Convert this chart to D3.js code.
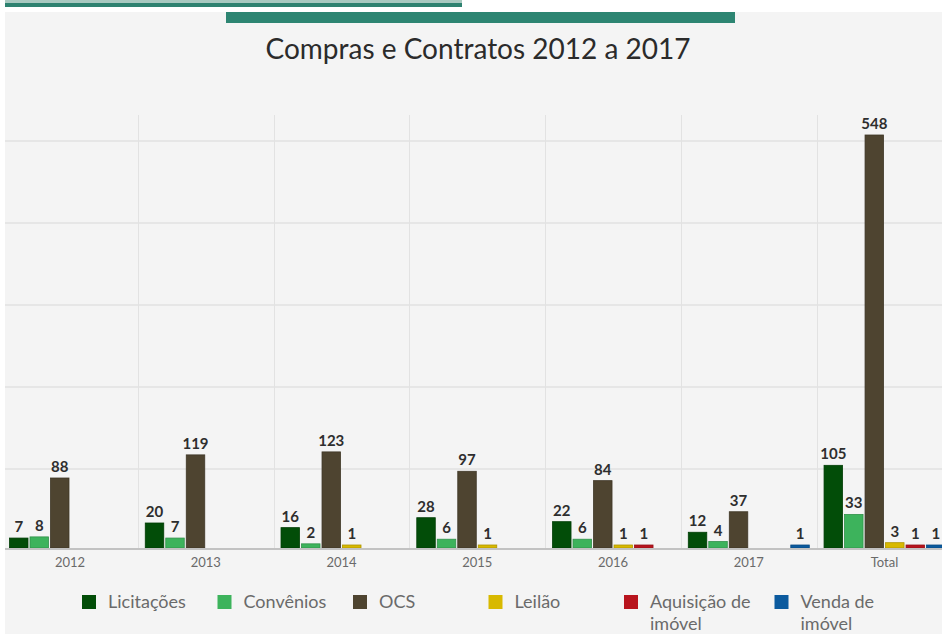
<!DOCTYPE html>
<html>
<head>
<meta charset="utf-8">
<script src="https://cdn.jsdelivr.net/npm/d3@7"></script>
<style>
  html, body { margin: 0; padding: 0; background: #ffffff; }
  svg { display: block; }
  text { font-family: Lato, "Open Sans", sans-serif; }
</style>
</head>
<body>
<svg id="chart" width="942" height="634"></svg>
<script>
// ---- data ----
const categories = ["2012", "2013", "2014", "2015", "2016", "2017", "Total"];
const seriesNames = ["Licitações", "Convênios", "OCS", "Leilão", "Aquisição de imóvel", "Venda de imóvel"];
const licitacoes = [7, 20, 16, 28, 22, 12, 105];
const convenios  = [8, 7, 2, 6, 6, 4, 33];
const ocs        = [88, 119, 123, 97, 84, 37, 548];
const leilao     = [null, null, 1, 1, 1, null, 3];
const aquisicao  = [null, null, null, null, 1, null, 1];
const venda      = [null, null, null, null, null, 1, 1];
const gridValues = [100, 210, 320, 430, 540];
const title = "Compras e Contratos 2012 a 2017";

const seriesValues = [licitacoes, convenios, ocs, leilao, aquisicao, venda];
const colors = ["#024d08", "#3db35c", "#4e4430", "#d8b900", "#b8141d", "#0b5a9e"];

const W = 942, H = 634;
const svg = d3.select("#chart");

// background / decoration
svg.append("rect").attr("x", 0).attr("y", 0).attr("width", W).attr("height", H).attr("fill", "#ffffff");
svg.append("rect").attr("x", 5).attr("y", 12).attr("width", W - 5).attr("height", H - 12).attr("fill", "#f4f4f4");
svg.append("rect").attr("x", 5).attr("y", 0).attr("width", 457).attr("height", 3).attr("fill", "#a8c9c0");
svg.append("rect").attr("x", 5).attr("y", 3).attr("width", 457).attr("height", 4).attr("fill", "#2e8270");
svg.append("rect").attr("x", 226).attr("y", 12).attr("width", 509).attr("height", 11).attr("fill", "#2d8572");

// title
svg.append("text")
  .attr("x", 478).attr("y", 59)
  .attr("text-anchor", "middle")
  .attr("font-size", 28)
  .attr("fill", "#2b2b2b")
  .text(title);

// scales
const baseY = 548;
const plotTop = 115;
const x0 = d3.scaleBand().domain(categories).range([2.1, 952.4]).padding(0);
const x1 = d3.scaleBand().domain(seriesNames).range([7.4, 128.4]).paddingInner(0.0976).paddingOuter(0);
const y = d3.scaleLinear().domain([0, 1, 20, 88, 548]).range([baseY, baseY - 3, baseY - 25, baseY - 70, baseY - 413]);

// gridlines
const grid = svg.append("g");
grid.selectAll("line.h").data(gridValues).join("line")
  .attr("class", "h")
  .attr("x1", 5).attr("x2", W)
  .attr("y1", d => y(d)).attr("y2", d => y(d))
  .attr("stroke", "#e6e6e6").attr("stroke-width", 2);
grid.selectAll("line.v").data(categories.slice(1)).join("line")
  .attr("class", "v")
  .attr("x1", d => Math.round(x0(d)) + 0.5).attr("x2", d => Math.round(x0(d)) + 0.5)
  .attr("y1", plotTop).attr("y2", baseY)
  .attr("stroke", "#e2e2e2").attr("stroke-width", 1);

// bars
const groups = svg.append("g").selectAll("g").data(categories).join("g")
  .attr("transform", d => `translate(${x0(d)},0)`);

groups.each(function(cat, ci) {
  const g = d3.select(this);
  const items = seriesNames.map((s, si) => ({ s, si, v: seriesValues[si][ci] })).filter(d => d.v != null);
  g.selectAll("rect").data(items).join("rect")
    .attr("x", d => x1(d.s))
    .attr("y", d => y(d.v))
    .attr("width", x1.bandwidth())
    .attr("height", d => baseY - y(d.v))
    .attr("fill", d => colors[d.si])
    .attr("stroke", d => d3.color(colors[d.si]).darker(0.6))
    .attr("stroke-width", 0.8);
  g.selectAll("text").data(items).join("text")
    .attr("x", d => x1(d.s) + x1.bandwidth() / 2)
    .attr("y", d => y(d.v) - 6)
    .attr("text-anchor", "middle")
    .attr("font-size", 15)
    .attr("font-weight", "bold")
    .attr("fill", "#2e2e2e")
    .text(d => d.v);
});

// x axis
const xAxis = svg.append("g").attr("transform", `translate(0,${baseY + 1.5})`)
  .call(d3.axisBottom(x0).tickSize(0).tickPadding(8));
xAxis.select(".domain").remove();
xAxis.selectAll("text").attr("font-size", 13).attr("fill", "#6a6a6a").attr("font-family", "Lato, sans-serif");
svg.append("line").attr("x1", 5).attr("x2", W).attr("y1", baseY + 1).attr("y2", baseY + 1)
  .attr("stroke", "#c2c2c2").attr("stroke-width", 2);

// legend
const legend = svg.append("g");
let prevEnd = -Infinity;
seriesNames.forEach((name, i) => {
  const x = Math.max(82 + 135.5 * i, prevEnd + 24);
  const item = legend.append("g").attr("transform", `translate(${x},0)`);
  item.append("rect").attr("x", 0).attr("y", 595).attr("width", 14).attr("height", 14).attr("fill", colors[i]);
  const words = name.split(" ");
  const lines = words.length > 2 ? [words.slice(0, 2).join(" "), words.slice(2).join(" ")] : [name];
  const t = item.append("text").attr("x", 26).attr("y", 608).attr("font-size", 18).attr("fill", "#6a6a6a");
  lines.forEach((ln, li) => {
    t.append("tspan").attr("x", 26).attr("dy", li === 0 ? 0 : 21.5).text(ln);
  });
  let maxW = 0;
  t.selectAll("tspan").each(function() { maxW = Math.max(maxW, this.getComputedTextLength()); });
  prevEnd = x + 26 + maxW;
});
</script>
</body>
</html>
